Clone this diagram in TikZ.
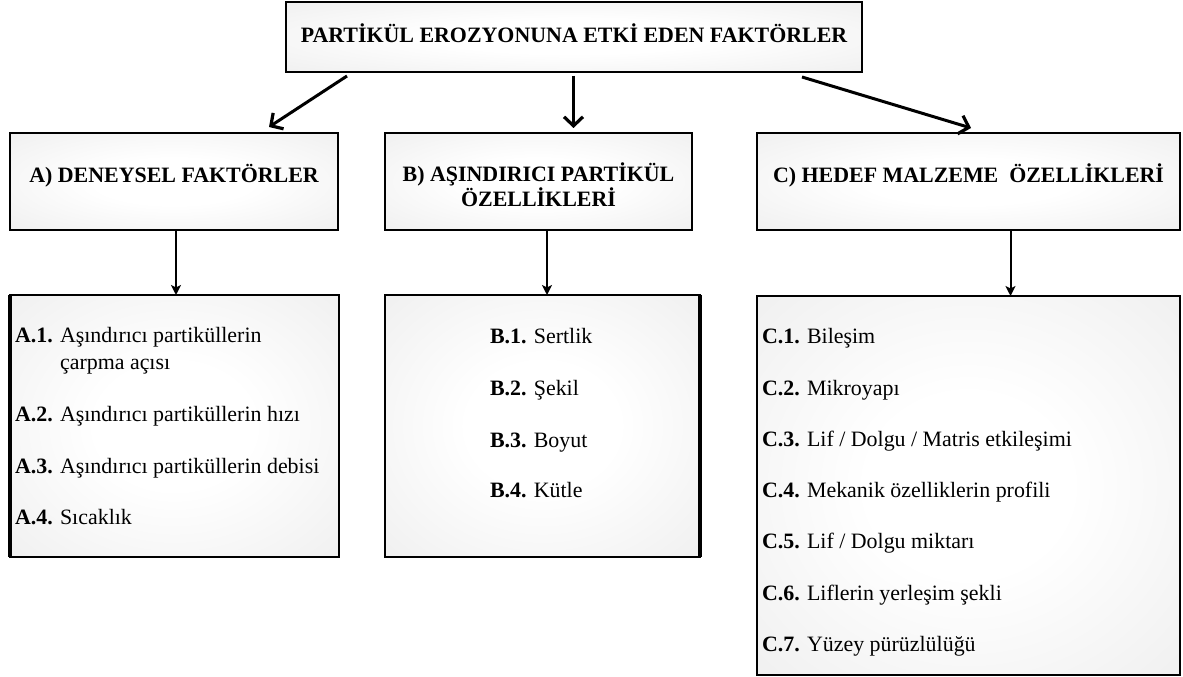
\documentclass[tikz,border=0pt]{standalone}
\usepackage{fontspec}
\setmainfont{Liberation Serif}
\usetikzlibrary{arrows.meta,calc}
\pgfdeclareradialshading{boxshade}{\pgfpoint{0bp}{0bp}}{color(0bp)=(white); color(12bp)=(white); color(48bp)=(black!9); color(100bp)=(black!10)}
\begin{document}
\begin{tikzpicture}[x=1bp,y=-1bp,
  box/.style={draw=black, line width=1.3bp, shading=boxshade, inner sep=0pt, outer sep=0pt},
  txt/.style={inner sep=0pt, outer sep=0pt, font=\fontsize{22}{26}\selectfont, text=black},
  head/.style={txt, anchor=base, font=\fontsize{22}{26}\selectfont\bfseries},
  item/.style={txt, anchor=base west},
  bigarrow/.style={line width=3bp, -{Straight Barb[length=9bp,width=19bp,line width=3.2bp]}},
  downarrow/.style={line width=2bp, -{Stealth[length=10bp,width=10bp,inset=2.5bp]}},
  thickedge/.style={line width=3.5bp}
]
\useasboundingbox (0,0) rectangle (1183,677);

% boxes
\node[box, minimum width=576bp, minimum height=70bp] (title) at (574,37) {};
\node[box, minimum width=328bp, minimum height=97bp] (boxA) at (174,181.5) {};
\node[box, minimum width=307bp, minimum height=97bp] (boxB) at (538.5,181.5) {};
\node[box, minimum width=423bp, minimum height=97bp] (boxC) at (968.5,181.5) {};
\node[box, minimum width=329bp, minimum height=262bp] (listA) at (174.5,426) {};
\node[box, minimum width=315bp, minimum height=262bp] (listB) at (542.5,426) {};
\node[box, minimum width=423bp, minimum height=379bp] (listC) at (968.5,485.5) {};
\draw[thickedge] (listA.north west) -- (listA.south west);
\draw[thickedge] (listB.north east) -- (listB.south east);

% titles
\node[head] (tt) at (574,43) {PARTİKÜL EROZYONUNA ETKİ EDEN FAKTÖRLER};
\node[head] (ha) at (174,183) {A) DENEYSEL FAKTÖRLER};
\node[head] (hb1) at (538.5,182) {B) AŞINDIRICI PARTİKÜL};
\node[head] (hb2) at (538.5,207) {ÖZELLİKLERİ};
\node[head] (hc) at (968.5,183) {C) HEDEF MALZEME\ \ ÖZELLİKLERİ};

% arrows
\draw[bigarrow] ([xshift=61bp,yshift=-4bp]title.south west) -- ([xshift=259bp,yshift=6bp]boxA.north west);
\draw[bigarrow] ([yshift=-4bp]title.south -| boxB.north) ++(35,0) coordinate (mstart) -- ([yshift=5bp]mstart |- boxB.north);
\draw[bigarrow] ([xshift=-60bp,yshift=-5bp]title.south east) -- ([xshift=214bp,yshift=5bp]boxC.north west);
\draw[downarrow] ([xshift=2bp]boxA.south) -- ([xshift=2bp]listA.north -| boxA.south);
\draw[downarrow] ([xshift=8.5bp]boxB.south) coordinate (bs) -- (bs |- listB.north);
\draw[downarrow] ([xshift=42bp]boxC.south) coordinate (cs) -- (cs |- listC.north);

% list A
\node[item] (a1) at (15,342) {\textbf{A.1.} Aşındırıcı partiküllerin};
\node[item] (a1b) at (15,369) {\phantom{\textbf{A.1.} }çarpma açısı};
\node[item] (a2) at (15,421) {\textbf{A.2.} Aşındırıcı partiküllerin hızı};
\node[item] (a3) at (15,473) {\textbf{A.3.} Aşındırıcı partiküllerin debisi};
\node[item] (a4) at (15,524) {\textbf{A.4.} Sıcaklık};

% list B
\node[item] (b1) at (490,343) {\textbf{B.1.} Sertlik};
\node[item] (b2) at (490,395) {\textbf{B.2.} Şekil};
\node[item] (b3) at (490,447) {\textbf{B.3.} Boyut};
\node[item] (b4) at (490,497) {\textbf{B.4.} Kütle};

% list C
\node[item] (c1) at (762,343) {\textbf{C.1.} Bileşim};
\node[item] (c2) at (762,395) {\textbf{C.2.} Mikroyapı};
\node[item] (c3) at (762,446) {\textbf{C.3.} Lif / Dolgu / Matris etkileşimi};
\node[item] (c4) at (762,497) {\textbf{C.4.} Mekanik özelliklerin profili};
\node[item] (c5) at (762,548) {\textbf{C.5.} Lif / Dolgu miktarı};
\node[item] (c6) at (762,600) {\textbf{C.6.} Liflerin yerleşim şekli};
\node[item] (c7) at (762,651) {\textbf{C.7.} Yüzey pürüzlülüğü};
\end{tikzpicture}
\end{document}
